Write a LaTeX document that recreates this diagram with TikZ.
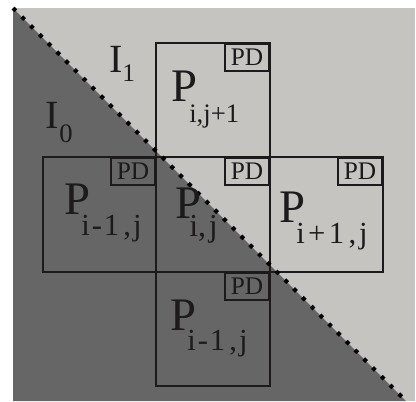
\documentclass[tikz,border=0pt]{standalone}
\usepackage{fontspec}
\setmainfont{Liberation Serif}
\definecolor{lightbg}{RGB}{197,196,192}
\definecolor{darkbg}{RGB}{102,102,102}
\definecolor{ink}{RGB}{28,26,26}
\newcommand\kk[1]{\kern#1pt\relax}
\begin{document}
\begin{tikzpicture}[x=0.75pt,y=-0.75pt,
  cell/.style={draw=ink,line width=1.5pt},
  pdbox/.style={draw=ink,line width=1.5pt,minimum width=33pt,minimum height=20.25pt,inner sep=0pt,anchor=north east,font=\fontsize{19}{19}\selectfont,text=ink},
  bigp/.style={anchor=base west,inner sep=0pt,text=ink,font=\fontsize{35}{35}\selectfont},
  subs/.style={anchor=base west,inner sep=0pt,text=ink,font=\fontsize{#1}{#1}\selectfont},
  divide/.style={line width=3pt,dash pattern=on 3pt off 6.3pt,black}]
\useasboundingbox (0,0) rectangle (416,401);
\fill[lightbg] (13,8) rectangle (415,401);
\fill[darkbg] (13,8) -- (406,401) -- (13,401) -- cycle;
% cells
\draw[cell] (156,43) rectangle (270,157);
\draw[cell] (43,157) rectangle (156,272);
\draw[cell] (156,157) rectangle (270,272);
\draw[cell] (270,157) rectangle (383,272);
\draw[cell] (156,272) rectangle (270,386);
% PD boxes
\node[pdbox] (pd1) at (270,43) {PD};
\node[pdbox] (pd2) at (156,157) {PD};
\node[pdbox] (pd3) at (270,157) {PD};
\node[pdbox] (pd4) at (383,157) {PD};
\node[pdbox] (pd5) at (270,272) {PD};
% diagonal boundary
\coordinate (d0) at (13,8);
\coordinate (d1) at (406,401);
\draw[divide] (d0) -- (d1);
% region labels
\node[bigp,font=\fontsize{30}{30}\selectfont] (i1) at (109,72) {I};
\node[subs=19] (i1s) at (122,81) {1};
\node[bigp,font=\fontsize{30}{30}\selectfont] (i0) at (45,128) {I};
\node[subs=20] (i0s) at (59,142) {0};
% cell labels
\node[bigp] (pt) at (171,101.7) {P};
\node[subs=20] (pts) at (189,122.7) {i,j+1};
\node[bigp] (pl) at (64,214) {P};
\node[subs=23] (pls) at (81,235) {i\kk{1.5}-\kk{1.5}1\kk{3},\kk{1.5}j};
\node[bigp] (pm) at (175,218.7) {P};
\node[subs=24] (pms) at (189,236) {i,\kk{2}j};
\node[bigp] (pr) at (279,222) {P};
\node[subs=23] (prs) at (296,243.7) {i\kk{2.5}+\kk{2.5}1\kk{3.5},\kk{2}j};
\node[bigp] (pb) at (170,330) {P};
\node[subs=23] (pbs) at (187,350) {i\kk{1.5}-\kk{1.5}1\kk{3},\kk{1.5}j};
\end{tikzpicture}
\end{document}
